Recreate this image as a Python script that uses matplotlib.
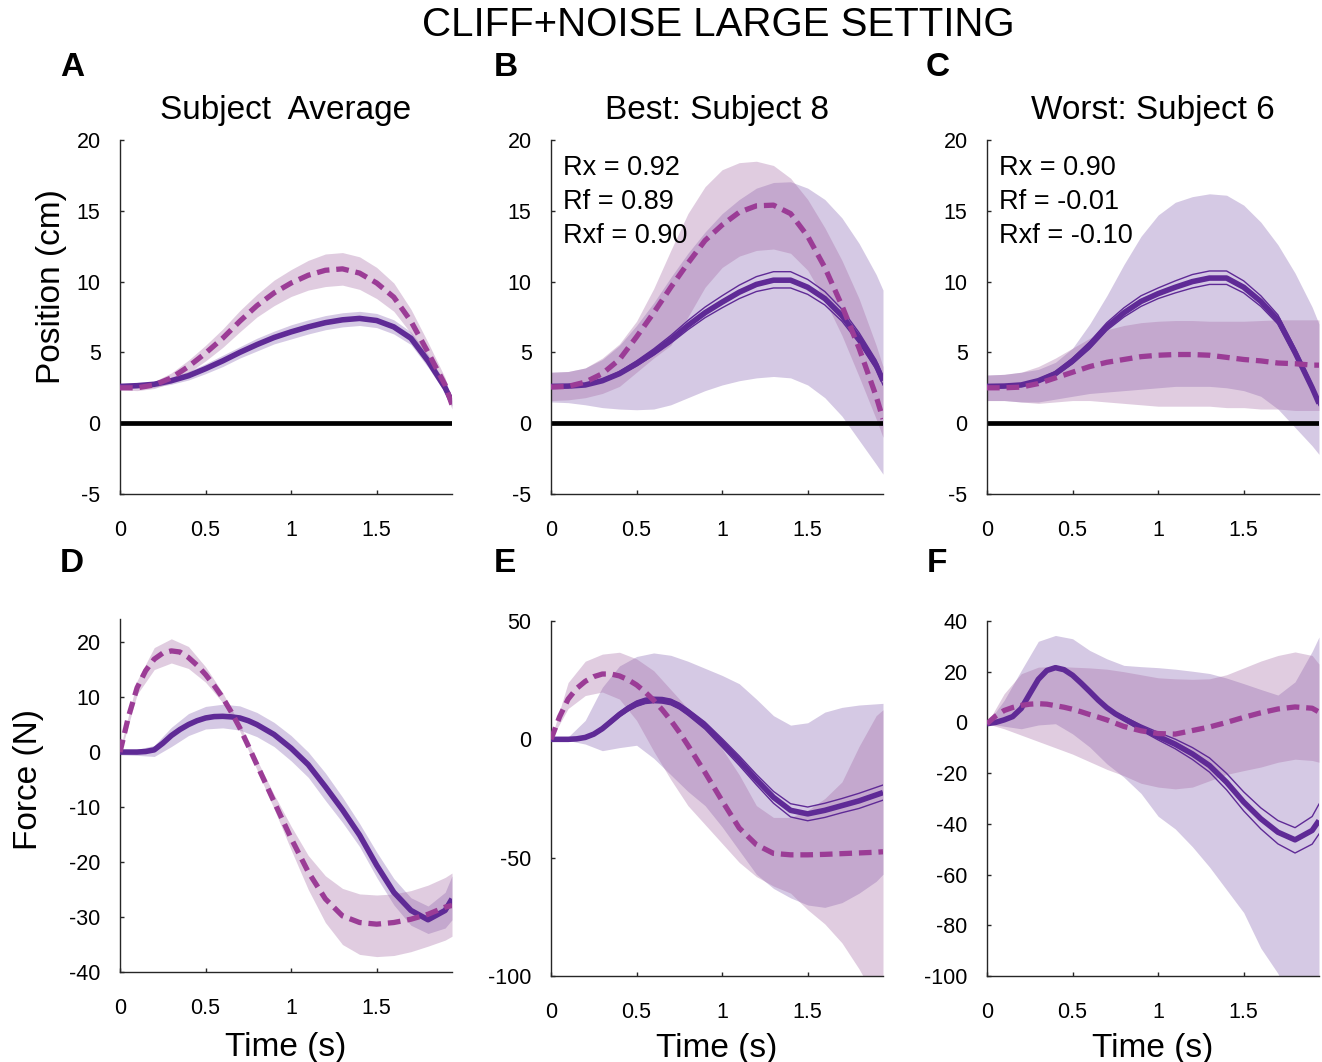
import matplotlib
matplotlib.use('Agg')
import matplotlib.pyplot as plt

plt.rcParams['font.family'] = ['Liberation Sans', 'DejaVu Sans']

# time grid (s) for bands and position curves
T = [0.0, 0.1, 0.2, 0.3, 0.4, 0.5, 0.6, 0.7, 0.8, 0.9, 1.0,
     1.1, 1.2, 1.3, 1.4, 1.5, 1.6, 1.7, 1.8, 1.9, 1.94]
# finer time grid for the force mean curves
TF = [0.0, 0.05, 0.1, 0.15, 0.2, 0.25, 0.3, 0.35, 0.4, 0.45, 0.5, 0.55, 0.6,
      0.65, 0.7, 0.75, 0.8, 0.9, 1.0, 1.1, 1.2, 1.3, 1.4, 1.5, 1.6, 1.7,
      1.8, 1.9, 1.94]

# ---- A: subject average, position ----
A_solid = [2.6, 2.65, 2.75, 3.0, 3.35, 3.85, 4.4, 5.0, 5.55, 6.05, 6.45, 6.8, 7.1, 7.3, 7.4, 7.25, 6.8, 6.0, 4.4, 2.5, 1.5]
A_solid_hi = [2.75, 2.8, 2.95, 3.25, 3.65, 4.2, 4.8, 5.4, 6.0, 6.5, 6.95, 7.3, 7.6, 7.8, 7.9, 7.75, 7.3, 6.45, 4.85, 2.85, 1.8]
A_solid_lo = [2.45, 2.5, 2.55, 2.75, 3.05, 3.5, 4.0, 4.6, 5.1, 5.6, 5.95, 6.3, 6.6, 6.8, 6.9, 6.75, 6.3, 5.55, 3.95, 2.15, 1.2]
A_dash = [2.5, 2.5, 2.7, 3.2, 4.0, 4.95, 6.0, 7.2, 8.3, 9.2, 9.9, 10.45, 10.8, 10.9, 10.6, 9.9, 8.9, 7.2, 5.0, 2.7, 1.3]
A_dash_hi = [2.65, 2.7, 2.95, 3.55, 4.45, 5.5, 6.65, 7.95, 9.1, 10.1, 10.85, 11.5, 11.95, 12.05, 11.75, 11.0, 9.9, 8.05, 5.7, 3.2, 1.6]
A_dash_lo = [2.35, 2.3, 2.45, 2.85, 3.55, 4.4, 5.35, 6.45, 7.5, 8.3, 8.95, 9.4, 9.65, 9.75, 9.45, 8.8, 7.9, 6.35, 4.3, 2.2, 1.0]

# ---- B: best subject 8, position ----
B_solid = [2.6, 2.62, 2.7, 3.0, 3.5, 4.2, 5.0, 5.9, 6.9, 7.8, 8.55, 9.25, 9.8, 10.1, 10.1, 9.6, 8.8, 7.6, 6.0, 4.1, 3.0]
B_thin_hi = [2.6, 2.65, 2.75, 3.1, 3.65, 4.4, 5.25, 6.2, 7.25, 8.2, 9.0, 9.75, 10.35, 10.7, 10.7, 10.15, 9.3, 8.05, 6.4, 4.45, 3.3]
B_thin_lo = [2.6, 2.6, 2.65, 2.9, 3.4, 4.05, 4.8, 5.65, 6.6, 7.45, 8.15, 8.8, 9.3, 9.55, 9.55, 9.1, 8.35, 7.2, 5.65, 3.8, 2.7]
B_solid_hi = [3.6, 3.65, 3.9, 4.5, 5.5, 6.9, 8.5, 10.3, 12.0, 13.5, 14.8, 15.8, 16.6, 17.0, 17.05, 16.6, 15.8, 14.5, 12.7, 10.5, 9.4]
B_solid_lo = [1.5, 1.45, 1.3, 1.1, 1.0, 0.95, 1.0, 1.3, 1.8, 2.3, 2.7, 3.0, 3.2, 3.3, 3.2, 2.7, 1.8, 0.5, -1.2, -2.9, -3.6]
B_dash = [2.55, 2.6, 2.9, 3.5, 4.5, 6.1, 7.8, 9.6, 11.3, 12.9, 14.0, 14.9, 15.35, 15.4, 14.8, 13.2, 11.0, 8.3, 5.3, 1.9, 0.3]
B_dash_hi = [3.6, 3.65, 3.9, 4.6, 5.6, 7.2, 9.5, 12.2, 14.8, 16.7, 17.9, 18.4, 18.5, 18.2, 17.3, 15.8, 13.8, 11.5, 8.8, 5.5, 4.0]
B_dash_lo = [1.6, 1.65, 1.8, 2.1, 2.6, 3.6, 4.6, 5.5, 7.5, 9.6, 11.0, 11.8, 12.2, 12.3, 12.0, 10.8, 8.7, 6.2, 3.3, 0.3, -1.0]

# ---- C: worst subject 6, position ----
C_solid = [2.6, 2.62, 2.7, 3.0, 3.5, 4.4, 5.5, 6.8, 7.8, 8.6, 9.15, 9.6, 10.0, 10.25, 10.25, 9.6, 8.6, 7.3, 5.0, 2.5, 1.4]
C_thin_hi = [2.6, 2.62, 2.75, 3.1, 3.65, 4.6, 5.75, 7.1, 8.15, 9.0, 9.55, 10.05, 10.5, 10.75, 10.75, 10.05, 9.0, 7.65, 5.3, 2.75, 1.6]
C_thin_lo = [2.6, 2.62, 2.65, 2.9, 3.35, 4.2, 5.25, 6.55, 7.5, 8.25, 8.8, 9.2, 9.55, 9.8, 9.8, 9.2, 8.25, 7.0, 4.75, 2.3, 1.25]
C_solid_hi = [3.4, 3.45, 3.6, 3.8, 4.3, 5.3, 7.0, 9.0, 11.2, 13.2, 14.7, 15.6, 16.0, 16.2, 16.1, 15.4, 14.2, 12.6, 10.6, 8.2, 7.0]
C_solid_lo = [1.6, 1.6, 1.5, 1.5, 1.7, 1.9, 2.1, 2.2, 2.3, 2.4, 2.5, 2.6, 2.6, 2.6, 2.5, 2.3, 1.9, 1.0, -0.3, -1.6, -2.2]
C_dash = [2.5, 2.5, 2.55, 2.8, 3.2, 3.6, 4.0, 4.3, 4.5, 4.7, 4.8, 4.85, 4.85, 4.8, 4.65, 4.5, 4.4, 4.25, 4.2, 4.1, 4.1]
C_dash_hi = [3.4, 3.45, 3.6, 4.0, 4.6, 5.3, 6.0, 6.6, 6.9, 7.1, 7.2, 7.25, 7.25, 7.2, 7.2, 7.2, 7.25, 7.3, 7.3, 7.3, 7.3]
C_dash_lo = [1.6, 1.6, 1.5, 1.4, 1.5, 1.6, 1.6, 1.5, 1.4, 1.3, 1.2, 1.2, 1.2, 1.2, 1.1, 1.1, 1.0, 1.0, 0.9, 0.9, 0.9]

# ---- D: subject average, force (means on TF, bands on T) ----
D_solid = [0.0, 0.0, 0.0, 0.1, 0.4, 1.6, 3.0, 4.1, 5.0, 5.7, 6.2, 6.45, 6.5, 6.4, 6.2, 5.7, 5.0,
           3.2, 0.7, -2.3, -6.3, -10.5, -15.1, -20.6, -25.5, -28.8, -30.5, -28.8, -26.7]
D_dash = [0.0, 6.5, 11.7, 14.8, 16.9, 18.0, 18.4, 18.2, 17.2, 15.8, 14.1, 12.1, 9.9, 7.3, 4.4, 1.1, -2.3,
          -9.0, -15.7, -21.8, -26.7, -29.8, -31.0, -31.3, -31.0, -30.4, -29.5, -28.2, -27.9]
D_solid_hi = [0.3, 0.5, 1.2, 4.5, 7.0, 8.3, 8.7, 8.4, 7.2, 5.4, 3.0, 0.0, -3.8, -8.2, -13.0, -18.2, -23.0, -26.5, -28.0, -25.5, -22.5]
D_solid_lo = [-0.5, -0.6, -0.8, 1.0, 3.0, 4.2, 4.4, 4.0, 2.8, 1.0, -1.6, -4.6, -8.8, -12.8, -17.2, -22.8, -27.8, -31.5, -33.0, -32.0, -30.5]
D_dash_hi = [0.5, 13.0, 19.0, 20.6, 19.2, 15.5, 10.8, 5.0, -1.4, -7.7, -13.5, -18.8, -22.5, -24.8, -25.8, -26.0, -25.8, -25.2, -24.2, -22.8, -22.0]
D_dash_lo = [-0.5, 10.5, 15.0, 16.2, 15.2, 12.7, 9.0, 3.8, -3.2, -10.3, -17.8, -25.0, -31.0, -35.0, -36.8, -37.2, -37.0, -36.3, -35.3, -34.2, -33.5]

# ---- E: best subject 8, force ----
E_solid = [0.0, 0.0, 0.0, 0.2, 0.8, 2.2, 4.5, 7.5, 10.5, 13.0, 15.0, 16.2, 16.6, 16.5, 15.8, 14.0, 11.5,
           5.8, -1.5, -9.0, -17.0, -24.5, -30.0, -31.5, -30.0, -28.0, -26.0, -23.5, -22.5]
E_thin_hi = [0.0, 0.15, 0.3, 0.6, 1.3, 2.8, 5.3, 8.4, 11.5, 14.1, 16.2, 17.4, 17.8, 17.7, 17.0, 15.3, 12.8,
             7.3, 0.3, -7.0, -14.8, -22.0, -27.2, -28.6, -27.0, -25.0, -22.8, -20.3, -19.3]
E_thin_lo = [0.0, -0.15, -0.3, -0.2, 0.3, 1.6, 3.8, 6.6, 9.6, 12.0, 13.9, 15.1, 15.5, 15.3, 14.6, 12.8, 10.2,
             4.3, -3.3, -11.0, -19.2, -27.0, -32.8, -34.4, -33.0, -31.0, -29.2, -26.7, -25.7]
E_dash = [0.0, 9.5, 17.0, 21.5, 24.5, 26.5, 27.6, 27.6, 26.8, 25.2, 23.0, 20.0, 16.5, 12.5, 8.0, 3.0, -2.5,
          -14.0, -26.0, -37.5, -44.5, -48.2, -48.8, -48.8, -48.6, -48.3, -48.0, -47.7, -47.5]
E_solid_hi = [0.0, 1.0, 8.0, 22.0, 31.0, 35.0, 36.5, 35.5, 33.0, 30.0, 27.0, 23.5, 17.0, 10.0, 6.0, 7.0, 11.5, 13.5, 14.5, 15.0, 15.2]
E_solid_lo = [0.0, -0.5, -2.0, -4.8, -3.5, -2.5, -8.0, -15.0, -22.0, -28.0, -37.0, -47.0, -57.0, -63.0, -67.0, -70.0, -71.0, -69.0, -65.0, -60.0, -57.0]
E_dash_hi = [0.0, 24.0, 33.0, 36.0, 36.8, 34.0, 29.0, 21.0, 13.0, 6.0, -4.0, -15.0, -28.0, -33.0, -33.0, -30.0, -25.0, -18.0, -3.0, 10.0, 12.5]
E_dash_lo = [0.0, 13.0, 18.5, 20.0, 17.0, 8.0, -5.0, -17.0, -28.0, -36.0, -44.0, -52.0, -58.0, -62.0, -65.0, -72.0, -78.0, -86.0, -97.0, -110.0, -115.0]

# ---- F: worst subject 6, force ----
F_solid = [-0.5, 0.0, 1.0, 2.3, 5.5, 11.3, 17.0, 20.5, 21.6, 20.8, 18.6, 15.5, 12.2, 8.8, 5.8, 3.4, 1.5,
           -2.2, -5.5, -8.6, -12.4, -17.0, -23.6, -31.4, -38.0, -43.3, -46.3, -42.6, -38.7]
F_thin_hi = [-0.5, 0.0, 1.0, 2.3, 5.5, 11.3, 17.0, 20.5, 21.6, 20.8, 18.6, 15.6, 12.5, 9.2, 6.3, 4.0, 2.3,
             -1.0, -3.9, -6.6, -9.9, -14.0, -20.1, -27.4, -33.7, -38.7, -41.5, -37.1, -32.2]
F_thin_lo = [-0.5, 0.0, 1.0, 2.3, 5.5, 11.3, 17.0, 20.5, 21.6, 20.8, 18.6, 15.4, 11.9, 8.4, 5.3, 2.8, 0.8,
             -3.2, -6.9, -10.4, -14.6, -19.6, -26.6, -34.9, -42.0, -47.9, -51.5, -48.0, -44.0]
F_dash = [-0.5, 2.5, 4.7, 5.9, 6.7, 7.2, 7.4, 7.2, 6.6, 6.0, 5.2, 4.2, 3.1, 2.1, 1.0, -0.3, -1.6,
          -3.3, -4.4, -4.6, -3.2, -1.8, 0.0, 2.0, 3.8, 5.3, 6.1, 5.6, 4.1]
F_solid_hi = [-0.5, 8.7, 20.5, 32.0, 34.3, 33.0, 28.4, 25.1, 22.5, 22.0, 21.6, 21.0, 20.2, 19.3, 17.5, 15.3, 13.0, 10.8, 16.0, 28.0, 33.7]
F_solid_lo = [-0.5, -1.5, -2.5, -1.0, -0.5, -4.5, -9.7, -16.3, -21.6, -28.0, -37.0, -42.0, -49.0, -57.0, -66.0, -75.0, -89.0, -99.0, -115.0, -130.0, -135.0]
F_dash_hi = [-0.5, 11.3, 19.2, 21.8, 22.1, 21.8, 21.5, 21.0, 20.0, 18.8, 17.6, 17.2, 17.0, 17.2, 18.8, 21.5, 24.2, 26.4, 27.8, 26.4, 23.0]
F_dash_lo = [-0.5, -2.5, -5.0, -7.5, -10.0, -12.5, -15.5, -18.5, -21.0, -24.0, -25.5, -26.2, -25.5, -23.0, -20.5, -19.0, -17.6, -15.7, -14.5, -15.0, -15.7]

X_TICKS = [0, 0.5, 1, 1.5]
X_TICK_LABELS = ['0', '0.5', '1', '1.5']
POS_TICKS = [-5, 0, 5, 10, 15, 20]
D_TICKS = [-40, -30, -20, -10, 0, 10, 20]
E_TICKS = [-100, -50, 0, 50]
F_TICKS = [-100, -80, -60, -40, -20, 0, 20, 40]

TITLES = ['Subject  Average', 'Best: Subject 8', 'Worst: Subject 6']
LETTERS = ['A', 'B', 'C', 'D', 'E', 'F']
STATS_B = ['Rx = 0.92', 'Rf = 0.89', 'Rxf = 0.90']
STATS_C = ['Rx = 0.90', 'Rf = -0.01', 'Rxf = -0.10']

SOLID_C = '#5f2a96'
DASH_C = '#9b3c96'
LAV_C = (129 / 255, 93 / 255, 174 / 255)
PINK_C = (162 / 255, 102 / 255, 162 / 255)

W, H = 1322, 1062


def px_axes(fig, x0, x1, y0, y1):
    return fig.add_axes([x0 / W, 1 - y1 / H, (x1 - x0) / W, (y1 - y0) / H])


def draw_panel(ax, t_line, solid, s_hi, s_lo, dash, d_hi, d_lo, ylim, yticks,
               thin=None, zero_line=False):
    ax.fill_between(T, s_lo, s_hi, color=LAV_C, alpha=0.33, lw=0, zorder=1)
    ax.fill_between(T, d_lo, d_hi, color=PINK_C, alpha=0.33, lw=0, zorder=1.1)
    if zero_line:
        ax.axhline(0, color='black', lw=3.4, zorder=2)
    if thin is not None:
        for tl in thin:
            ax.plot(t_line, tl, color=SOLID_C, lw=1.0, zorder=3)
    ax.plot(t_line, solid, color=SOLID_C, lw=4.0, zorder=4, solid_capstyle='butt')
    ax.plot(t_line, dash, color=DASH_C, lw=3.8, zorder=5, dashes=(2.4, 1.3))
    ax.set_xlim(0, 1.94)
    ax.set_ylim(*ylim)
    ax.set_xticks(X_TICKS)
    ax.set_xticklabels(X_TICK_LABELS)
    ax.set_yticks(yticks)
    ax.set_yticklabels([str(v) for v in yticks])
    for s in ['top', 'right']:
        ax.spines[s].set_visible(False)
    for s in ['left', 'bottom']:
        ax.spines[s].set_color('#262626')
        ax.spines[s].set_linewidth(1.0)
    ax.tick_params(axis='both', direction='in', length=3, width=1.0,
                   colors='#262626', labelcolor='black', labelsize=15.5)
    ax.tick_params(axis='x', pad=19)
    ax.tick_params(axis='y', pad=14)
    ax.patch.set_alpha(0)


fig = plt.figure(figsize=(W / 100, H / 100), dpi=100)

cols = [(120, 452), (551, 883), (987, 1319)]
axA = px_axes(fig, *cols[0], 140, 494)
axB = px_axes(fig, *cols[1], 140, 494)
axC = px_axes(fig, *cols[2], 140, 494)
axD = px_axes(fig, *cols[0], 619, 972)
axE = px_axes(fig, *cols[1], 621, 976)
axF = px_axes(fig, *cols[2], 621, 976)

draw_panel(axA, T, A_solid, A_solid_hi, A_solid_lo, A_dash, A_dash_hi, A_dash_lo,
           (-5, 20), POS_TICKS, zero_line=True)
draw_panel(axB, T, B_solid, B_solid_hi, B_solid_lo, B_dash, B_dash_hi, B_dash_lo,
           (-5, 20), POS_TICKS, thin=[B_thin_hi, B_thin_lo], zero_line=True)
draw_panel(axC, T, C_solid, C_solid_hi, C_solid_lo, C_dash, C_dash_hi, C_dash_lo,
           (-5, 20), POS_TICKS, thin=[C_thin_hi, C_thin_lo], zero_line=True)
draw_panel(axD, TF, D_solid, D_solid_hi, D_solid_lo, D_dash, D_dash_hi, D_dash_lo,
           (-40, 24.2), D_TICKS)
draw_panel(axE, TF, E_solid, E_solid_hi, E_solid_lo, E_dash, E_dash_hi, E_dash_lo,
           (-100, 50), E_TICKS, thin=[E_thin_hi, E_thin_lo])
draw_panel(axF, TF, F_solid, F_solid_hi, F_solid_lo, F_dash, F_dash_hi, F_dash_lo,
           (-100, 40), F_TICKS, thin=[F_thin_hi, F_thin_lo])

for ax, title in zip([axA, axB, axC], TITLES):
    ax.text(0.5, 1 + 29 / 354, title, transform=ax.transAxes,
            ha='center', va='center', fontsize=24)

# correlation annotations, one line every 34 px starting at y = 168 px
for ax, stats in zip([axB, axC], [STATS_B, STATS_C]):
    for i, s in enumerate(stats):
        ax.text(0.035, (494 - (168 + 34 * i)) / 354, s,
                transform=ax.transAxes, ha='left', va='center', fontsize=19.5)

axA.set_ylabel('Position (cm)', fontsize=24)
axA.yaxis.set_label_coords(-0.16, 0.585)
axD.set_ylabel('Force (N)', fontsize=24)
axD.yaxis.set_label_coords(-0.228, 0.544)
axD.set_xlabel('Time (s)', fontsize=24)
axD.xaxis.set_label_coords(0.5, -0.17)
for ax in [axE, axF]:
    ax.set_xlabel('Time (s)', fontsize=24)
    ax.xaxis.set_label_coords(0.5, -0.16)

letter_pos = [(72, 68), (506, 68), (938, 68), (72, 563), (505, 563), (937, 563)]
for letter, (lx, ly) in zip(LETTERS, letter_pos):
    fig.text(lx / W, 1 - ly / H, letter, ha='center', va='center',
             fontsize=24, fontweight='bold')

fig.text(718 / W, 1 - 25 / H, 'CLIFF+NOISE LARGE SETTING', ha='center',
         va='center', fontsize=29)

fig.savefig('out.png', dpi=100)
